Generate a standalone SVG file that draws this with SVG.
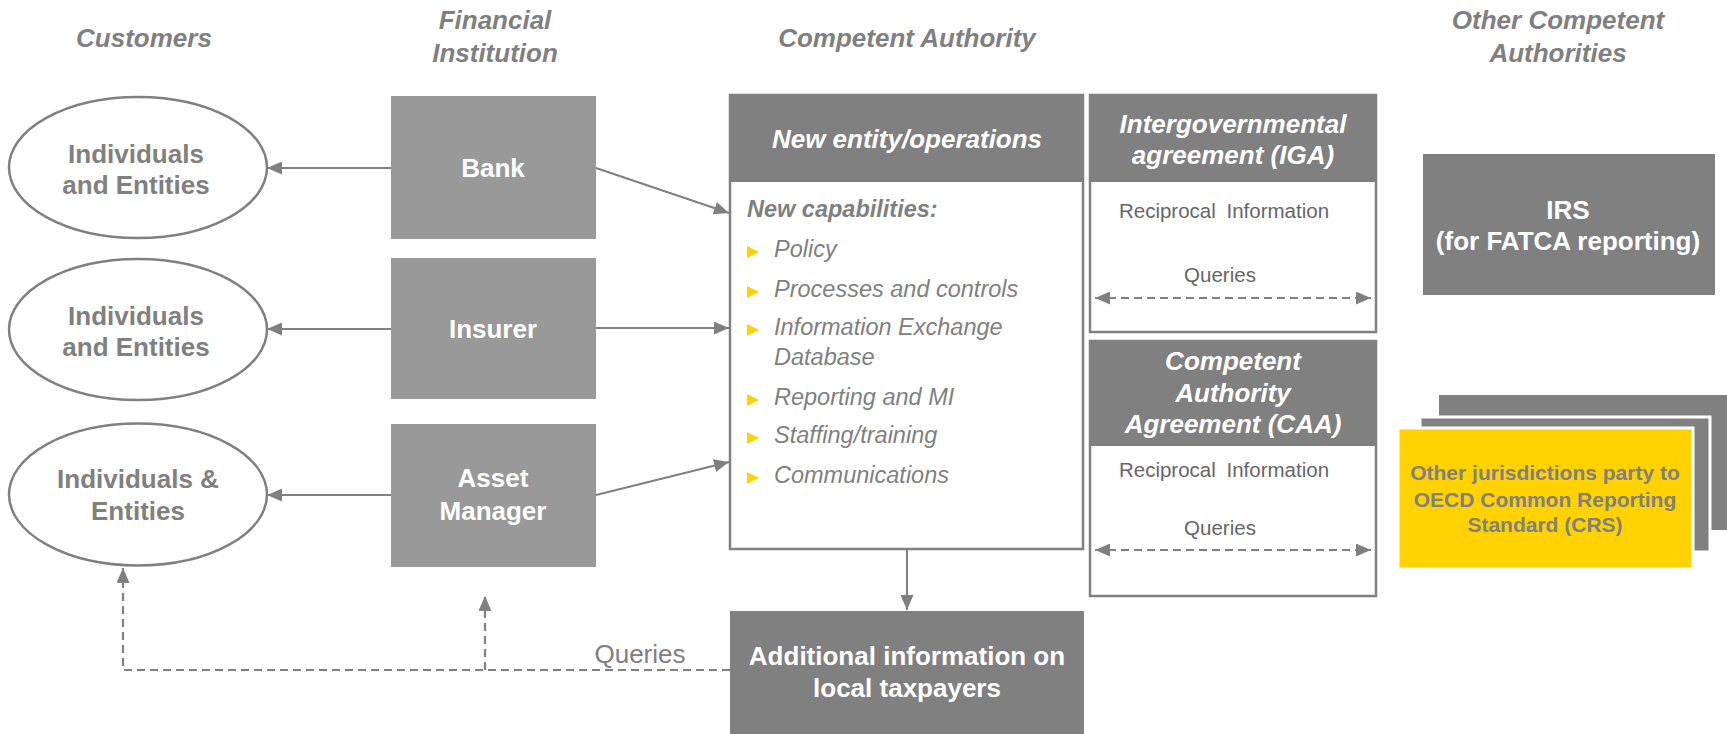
<svg xmlns="http://www.w3.org/2000/svg" width="1727" height="734" viewBox="0 0 1727 734">
<style>
text{font-family:"Liberation Sans",Arial,sans-serif;}
.hdr{font-size:26px;font-weight:bold;font-style:italic;fill:#808080;text-anchor:middle;}
.ell{fill:#fff;stroke:#808080;stroke-width:2.5;}
.etx{font-size:26px;font-weight:bold;fill:#808080;text-anchor:middle;}
.fi{fill:#999999;}
.wtx{font-size:26px;font-weight:bold;fill:#fff;text-anchor:middle;}
.wti{font-size:26px;font-weight:bold;font-style:italic;fill:#fff;text-anchor:middle;}
.dk{fill:#808080;}
.body{fill:#fff;stroke:#808080;stroke-width:2.5;}
.item{font-size:23.5px;font-style:italic;fill:#808080;}
.bul{fill:#FFD200;}
.small{font-size:20.5px;fill:#666666;text-anchor:middle;}
.ln{stroke:#808080;stroke-width:2;fill:none;}
.dash{stroke:#808080;stroke-width:2.2;fill:none;stroke-dasharray:8 5;}
.ytx{font-size:21px;font-weight:bold;fill:#808080;text-anchor:middle;}
</style>
<defs>
<marker id="ah" viewBox="0 0 15 13" refX="15" refY="6.5" markerWidth="15" markerHeight="13" markerUnits="userSpaceOnUse" orient="auto-start-reverse">
<path d="M0,0 L15,6.5 L0,13 z" fill="#808080"/>
</marker>
</defs>
<rect width="1727" height="734" fill="#fff"/>

<g id="headers">
<text class="hdr" x="144" y="47">Customers</text>
<text class="hdr" x="495" y="29">Financial</text>
<text class="hdr" x="495" y="62">Institution</text>
<text class="hdr" x="907" y="47">Competent Authority</text>
<text class="hdr" x="1558" y="29">Other Competent</text>
<text class="hdr" x="1558" y="62">Authorities</text>
</g>

<g id="customer1">
<ellipse class="ell" cx="138" cy="167.5" rx="129" ry="70.5"/>
<text class="etx" x="136" y="163">Individuals</text>
<text class="etx" x="136" y="194">and Entities</text>
</g>
<g id="customer2">
<ellipse class="ell" cx="138" cy="329.5" rx="129" ry="70.5"/>
<text class="etx" x="136" y="325">Individuals</text>
<text class="etx" x="136" y="356">and Entities</text>
</g>
<g id="customer3">
<ellipse class="ell" cx="138" cy="494.5" rx="129" ry="71"/>
<text class="etx" x="138" y="488">Individuals &amp;</text>
<text class="etx" x="138" y="520">Entities</text>
</g>

<g id="bank">
<rect class="fi" x="391" y="96" width="205" height="143"/>
<text class="wtx" x="493" y="177">Bank</text>
</g>
<g id="insurer">
<rect class="fi" x="391" y="258" width="205" height="141"/>
<text class="wtx" x="493" y="338">Insurer</text>
</g>
<g id="asset-manager">
<rect class="fi" x="391" y="424" width="205" height="143"/>
<text class="wtx" x="493" y="487">Asset</text>
<text class="wtx" x="493" y="520">Manager</text>
</g>

<g id="new-entity">
<rect class="body" x="730" y="95" width="353" height="454"/>
<rect class="dk" x="729" y="95" width="355" height="87"/>
<text class="wti" x="907" y="148">New entity/operations</text>
<text x="747" y="217" font-size="23.5" font-weight="bold" font-style="italic" fill="#808080">New capabilities:</text>
<path class="bul" d="M747,246 L759,252 L747,258 z"/>
<text class="item" x="774" y="257">Policy</text>
<path class="bul" d="M747,286 L759,292 L747,298 z"/>
<text class="item" x="774" y="297">Processes and controls</text>
<path class="bul" d="M747,324 L759,330 L747,336 z"/>
<text class="item" x="774" y="335">Information Exchange</text>
<text class="item" x="774" y="365">Database</text>
<path class="bul" d="M747,394 L759,400 L747,406 z"/>
<text class="item" x="774" y="405">Reporting and MI</text>
<path class="bul" d="M747,432 L759,438 L747,444 z"/>
<text class="item" x="774" y="443">Staffing/training</text>
<path class="bul" d="M747,472 L759,478 L747,484 z"/>
<text class="item" x="774" y="483">Communications</text>
</g>

<g id="iga">
<rect class="body" x="1090" y="95" width="286" height="237"/>
<rect class="dk" x="1089" y="95" width="288" height="87"/>
<text class="wti" x="1233" y="133">Intergovernmental</text>
<text class="wti" x="1233" y="164">agreement (IGA)</text>
<text class="small" x="1224" y="218" word-spacing="5">Reciprocal Information</text>
<text class="small" x="1220" y="282">Queries</text>
</g>

<g id="caa">
<rect class="body" x="1090" y="341" width="286" height="255"/>
<rect class="dk" x="1089" y="341" width="288" height="105"/>
<text class="wti" x="1233" y="370">Competent</text>
<text class="wti" x="1233" y="402">Authority</text>
<text class="wti" x="1233" y="433">Agreement (CAA)</text>
<text class="small" x="1224" y="477" word-spacing="5">Reciprocal Information</text>
<text class="small" x="1220" y="535">Queries</text>
</g>

<g id="additional-info">
<rect class="dk" x="730" y="611" width="354" height="123"/>
<text class="wtx" x="907" y="665">Additional information on</text>
<text class="wtx" x="907" y="697">local taxpayers</text>
</g>

<g id="irs">
<rect class="dk" x="1423" y="154" width="292" height="141"/>
<text class="wtx" x="1568" y="219">IRS</text>
<text class="wtx" x="1568" y="250">(for FATCA reporting)</text>
</g>

<g id="other-jurisdictions">
<rect class="dk" x="1439" y="395" width="290" height="135"/>
<rect class="dk" x="1420" y="417" width="290" height="135" stroke="#fff" stroke-width="3"/>
<rect x="1398" y="428" width="295" height="141" fill="#FFD200" stroke="#fff" stroke-width="3"/>
<text class="ytx" x="1545" y="480">Other jurisdictions party to</text>
<text class="ytx" x="1545" y="507">OECD Common Reporting</text>
<text class="ytx" x="1545" y="532">Standard (CRS)</text>
</g>

<g id="connectors">
<line class="ln" x1="391" y1="168" x2="267" y2="168" marker-end="url(#ah)"/>
<line class="ln" x1="391" y1="329" x2="267" y2="329" marker-end="url(#ah)"/>
<line class="ln" x1="391" y1="495" x2="267" y2="495" marker-end="url(#ah)"/>
<line class="ln" x1="596" y1="168" x2="729" y2="213" marker-end="url(#ah)"/>
<line class="ln" x1="596" y1="328" x2="729" y2="328" marker-end="url(#ah)"/>
<line class="ln" x1="596" y1="495" x2="729" y2="462" marker-end="url(#ah)"/>
<line class="ln" x1="907" y1="549" x2="907" y2="610" marker-end="url(#ah)"/>
<line class="dash" x1="1095" y1="298" x2="1371" y2="298" marker-start="url(#ah)" marker-end="url(#ah)"/>
<line class="dash" x1="1095" y1="550" x2="1371" y2="550" marker-start="url(#ah)" marker-end="url(#ah)"/>
<polyline class="dash" points="730,670 123,670 123,568" marker-end="url(#ah)"/>
<line class="dash" x1="485" y1="670" x2="485" y2="596" marker-end="url(#ah)"/>
<text x="640" y="663" font-size="26" fill="#808080" text-anchor="middle">Queries</text>
</g>
</svg>
